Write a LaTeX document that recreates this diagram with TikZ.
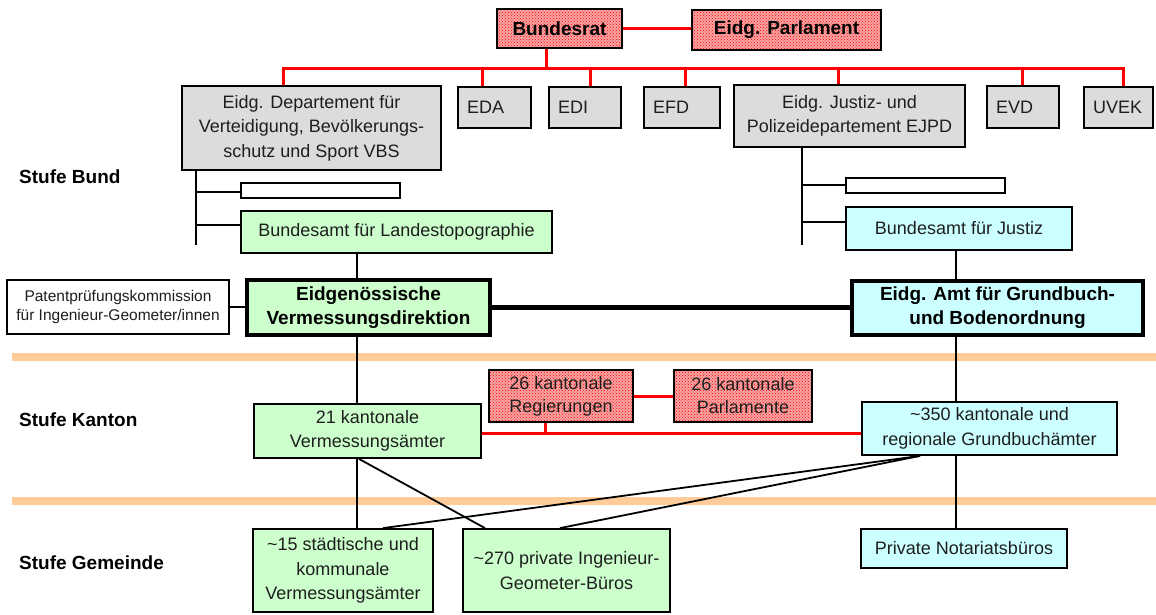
\documentclass[tikz,border=0pt]{standalone}
\usepackage{fontspec}
\setmainfont{Liberation Sans}
\usetikzlibrary{patterns}
\definecolor{grayfill}{RGB}{220,220,220}
\definecolor{greenfill}{RGB}{204,255,204}
\definecolor{cyanfill}{RGB}{204,255,255}
\definecolor{pinkfill}{RGB}{246,165,165}
\definecolor{bandcol}{RGB}{255,204,153}
\definecolor{redline}{RGB}{255,0,0}
\definecolor{txt}{RGB}{30,30,30}
\tikzset{
  box/.style={draw=black, line width=1.8pt, inner sep=0pt, align=center, text=txt,
    font=\fontsize{18}{24.5}\selectfont},
  graybox/.style={box, fill=grayfill},
  greenbox/.style={box, fill=greenfill},
  cyanbox/.style={box, fill=cyanfill},
  whitebox/.style={box, fill=white},
  redbox/.style={box, preaction={fill=pinkfill}, pattern=crosshatch dots, pattern color=red},
  leftbox/.style={graybox, inner xsep=9pt, align=left},
  thickbox/.style={line width=3.5pt, text=black, font=\fontsize{19}{24}\selectfont\bfseries},
  redcon/.style={draw=redline, line width=3pt},
  blackcon/.style={draw=black, line width=1.8pt},
  thickcon/.style={draw=black, line width=5pt},
  band/.style={draw=bandcol, line width=8pt},
  level/.style={anchor=west, inner sep=0pt, font=\fontsize{19}{22}\selectfont\bfseries}
}
\begin{document}
\begin{tikzpicture}[x=1pt,y=-1pt]
\useasboundingbox (0,0) rectangle (1156,614);
% bands
\draw[band] (12,357) -- (1156,357);
\draw[band] (12,501) -- (1156,501);
% level labels
\node[level] (l1) at (19,177) {Stufe Bund};
\node[level] (l2) at (19,420) {Stufe Kanton};
\node[level] (l3) at (19,563) {Stufe Gemeinde};
% top
\node[redbox, line width=2.5pt, minimum width=125pt, minimum height=39pt, font=\fontsize{19}{22}\selectfont\bfseries, text=black] (bundesrat) at (559.5,28.5) {Bundesrat};
\node[redbox, line width=2.5pt, minimum width=189pt, minimum height=40pt, font=\fontsize{19}{22}\selectfont\bfseries, text=black] (parlament) at (786.5,30) {Eidg. Parlament};
% departments
\node[graybox, minimum width=259pt, minimum height=84pt] (vbs) at (311.5,128) {Eidg. Departement für\\Verteidigung, Bevölkerungs-\\schutz und Sport VBS};
\node[leftbox, text width=55pt, minimum height=41pt] (eda) at (494.5,107.5) {EDA};
\node[leftbox, text width=54pt, minimum height=41pt] (edi) at (585,107.5) {EDI};
\node[leftbox, text width=58pt, minimum height=41pt] (efd) at (682,107.5) {EFD};
\node[graybox, minimum width=231pt, minimum height=62pt] (ejpd) at (849.5,116) {Eidg. Justiz- und\\Polizeidepartement EJPD};
\node[leftbox, text width=54pt, minimum height=42pt] (evd) at (1023,107) {EVD};
\node[leftbox, text width=51pt, minimum height=41pt] (uvek) at (1118.5,107.5) {UVEK};
% offices
\node[whitebox, minimum width=159pt, minimum height=15pt] (blank1) at (320.5,190.5) {};
\node[greenbox, minimum width=311pt, minimum height=42pt] (lt) at (396.5,232) {Bundesamt für Landestopographie};
\node[whitebox, minimum width=159pt, minimum height=15pt] (blank2) at (925.5,185.5) {};
\node[cyanbox, minimum width=226pt, minimum height=43pt] (bj) at (959,228.5) {Bundesamt für Justiz};
\node[whitebox, minimum width=222pt, minimum height=54pt, font=\fontsize{15.5}{18.5}\selectfont] (patent) at (118,307) {Patentprüfungskommission\\für Ingenieur-Geometer/innen};
\node[greenbox, thickbox, minimum width=243pt, minimum height=55pt] (vd) at (368.5,307.5) {Eidgenössische\\Vermessungsdirektion};
\node[cyanbox, thickbox, minimum width=291pt, minimum height=54pt] (gb) at (997.5,308) {Eidg. Amt für Grundbuch-\\und Bodenordnung};
% cantons
\node[redbox, minimum width=144pt, minimum height=52pt, font=\fontsize{18}{23}\selectfont] (regier) at (561,396) {26 kantonale\\Regierungen};
\node[redbox, minimum width=138pt, minimum height=52pt, font=\fontsize{18}{23}\selectfont] (kparl) at (743,396) {26 kantonale\\Parlamente};
\node[greenbox, minimum width=227pt, minimum height=54pt] (kva) at (367.5,431) {21 kantonale\\Vermessungsämter};
\node[cyanbox, minimum width=255pt, minimum height=53pt] (gba) at (989.5,428.5) {\textasciitilde350 kantonale und\\regionale Grundbuchämter};
% communes
\node[greenbox, minimum width=180pt, minimum height=83pt] (staedt) at (343,570.5) {\textasciitilde15 städtische und\\kommunale\\Vermessungsämter};
\node[greenbox, minimum width=207pt, minimum height=83pt] (priv) at (566.5,570.5) {\textasciitilde270 private Ingenieur-\\Geometer-Büros};
\node[cyanbox, minimum width=206pt, minimum height=39pt] (notar) at (964,548.5) {Private Notariatsbüros};
% red connectors top
\draw[redcon] (bundesrat.east) -- (bundesrat.east -| parlament.west);
\coordinate (br) at (546,68);
\coordinate (busL) at (283,68);
\coordinate (busR) at (1123,68);
\draw[redcon] (br |- bundesrat.south) -- (br);
\draw[redcon, line join=miter] (busL |- vbs.north) -- (busL) -- (busR) -- (busR |- uvek.north);
\coordinate (d2) at (482,68);
\coordinate (d3) at (590,68);
\coordinate (d4) at (685,68);
\coordinate (d5) at (838,68);
\coordinate (d6) at (1022,68);
\draw[redcon] (d2) -- (d2 |- eda.north);
\draw[redcon] (d3) -- (d3 |- edi.north);
\draw[redcon] (d4) -- (d4 |- efd.north);
\draw[redcon] (d5) -- (d5 |- ejpd.north);
\draw[redcon] (d6) -- (d6 |- evd.north);
% VBS tree
\coordinate (v1) at (196,245);
\draw[blackcon] (v1 |- vbs.south) -- (v1);
\coordinate (b1) at (196,192);
\coordinate (b2) at (196,225);
\draw[blackcon] (b1) -- (b1 -| blank1.west);
\draw[blackcon] (b2) -- (b2 -| lt.west);
% EJPD tree
\coordinate (v2) at (802,245);
\draw[blackcon] (v2 |- ejpd.south) -- (v2);
\coordinate (b3) at (802,185);
\coordinate (b4) at (802,222);
\draw[blackcon] (b3) -- (b3 -| blank2.west);
\draw[blackcon] (b4) -- (b4 -| bj.west);
% left column verticals
\coordinate (c1) at (357,0);
\draw[blackcon] (c1 |- lt.south) -- (c1 |- vd.north);
\draw[blackcon] (c1 |- vd.south) -- (c1 |- kva.north);
\draw[blackcon] (c1 |- kva.south) -- (c1 |- staedt.north);
% right column verticals
\coordinate (c2) at (956,0);
\draw[blackcon] (c2 |- bj.south) -- (c2 |- gb.north);
\draw[blackcon] (c2 |- gb.south) -- (c2 |- gba.north);
\draw[blackcon] (c2 |- gba.south) -- (c2 |- notar.north);
% horizontals
\draw[blackcon] (patent.east) -- (patent.east -| vd.west);
\draw[thickcon] (vd.east) -- (vd.east -| gb.west);
% red canton connectors
\draw[redcon] (regier.east) -- (regier.east -| kparl.west);
\coordinate (r0) at (545,433);
\draw[redcon] (r0 |- regier.south) -- (r0);
\draw[redcon] (r0 -| kva.east) -- (r0 -| gba.west);
% diagonals
\coordinate (k1) at (359,0);
\coordinate (p1) at (485,0);
\draw[blackcon] (k1 |- kva.south) -- (p1 |- priv.north);
\coordinate (g1) at (920,0);
\coordinate (s1) at (383,0);
\coordinate (p2) at (560,0);
\draw[blackcon] (g1 |- gba.south) -- (s1 |- staedt.north);
\draw[blackcon] (g1 |- gba.south) -- (p2 |- priv.north);
\end{tikzpicture}
\end{document}
